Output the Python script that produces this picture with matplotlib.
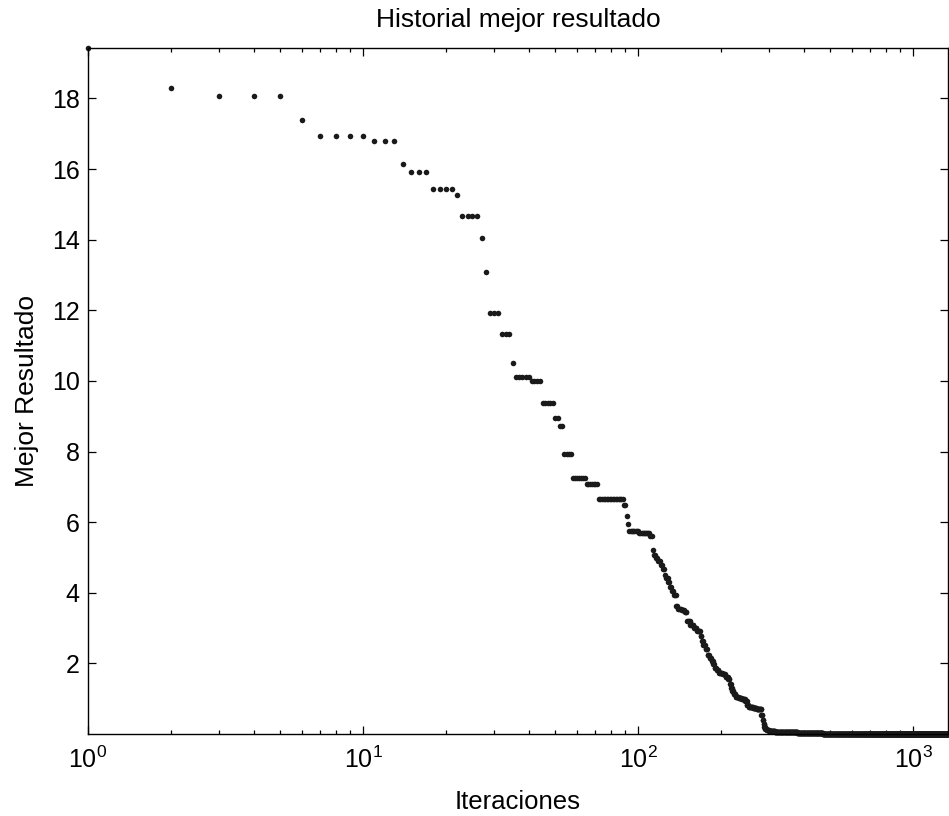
import numpy as np
import matplotlib
matplotlib.use("Agg")
import matplotlib.pyplot as plt
from matplotlib.ticker import LogLocator, NullFormatter, FixedLocator

plt.rcParams['font.family'] = ['Liberation Sans', 'DejaVu Sans']
plt.rcParams['mathtext.fontset'] = 'custom'
plt.rcParams['mathtext.rm'] = 'Liberation Sans'
plt.rcParams['mathtext.it'] = 'Liberation Sans'
plt.rcParams['mathtext.bf'] = 'Liberation Sans'

# ---- data: best result history (step changes) ----
n_iter = 1340
iter_start = [1, 2, 3, 6, 7, 11, 14, 15, 18, 22, 23, 27, 28, 29, 32, 35, 36, 41, 45, 50,
              52, 54, 58, 65, 72, 89, 91, 92, 93, 101, 111, 113, 114, 116, 118, 121, 123,
              125, 126, 129, 131, 133, 135, 138, 140, 144, 148, 151, 155, 160, 164, 169,
              171, 173, 176, 179, 182, 185, 188, 190, 193, 197, 203, 208, 213, 216, 218,
              220, 223, 227, 232, 238, 245, 249, 253, 262, 270, 281, 284, 286, 288, 290,
              294, 300, 315, 340, 380, 430, 470]
best_value = [19.43, 18.31, 18.07, 17.38, 16.94, 16.79, 16.14, 15.93, 15.43, 15.28, 14.66,
              14.05, 13.09, 11.92, 11.33, 10.50, 10.10, 9.99, 9.38, 8.94, 8.73, 7.94, 7.24,
              7.08, 6.65, 6.48, 6.17, 5.95, 5.74, 5.68, 5.60, 5.20, 5.08, 4.98, 4.90, 4.80,
              4.68, 4.50, 4.42, 4.30, 4.15, 4.05, 3.93, 3.62, 3.55, 3.50, 3.45, 3.20, 3.10,
              3.00, 2.93, 2.78, 2.62, 2.52, 2.40, 2.25, 2.15, 2.06, 1.97, 1.88, 1.80, 1.74,
              1.69, 1.62, 1.55, 1.42, 1.30, 1.22, 1.13, 1.06, 1.01, 0.98, 0.94, 0.82, 0.76,
              0.73, 0.70, 0.55, 0.40, 0.29, 0.20, 0.14, 0.11, 0.09, 0.07, 0.06, 0.04, 0.02,
              0.00]
y_ticks = [2, 4, 6, 8, 10, 12, 14, 16, 18]

title = "Historial mejor resultado"
x_label = "Iteraciones"
y_label = "Mejor Resultado"

# build per-iteration series from the step table
counts = np.diff(iter_start + [n_iter + 1])
iters = np.arange(1, n_iter + 1)
values = np.repeat(best_value, counts)

fig = plt.figure(figsize=(9.49, 8.16), dpi=100)
ax = fig.add_axes([88 / 949, (816 - 734) / 816, (948 - 88) / 949, (734 - 48) / 816])

ax.plot(iters, values, linestyle='none', marker='o', markersize=4.0,
        markeredgewidth=0, color='#1a1a1a', clip_on=False)

ax.set_xscale('log')
ax.set_xlim(1, n_iter)
ax.set_ylim(min(values), max(values))
ax.yaxis.set_major_locator(FixedLocator(y_ticks))

ax.xaxis.set_major_locator(LogLocator(base=10, numticks=10))
ax.xaxis.set_minor_locator(LogLocator(base=10, subs=np.arange(2, 10), numticks=20))
ax.xaxis.set_minor_formatter(NullFormatter())

for s in ax.spines.values():
    s.set_linewidth(1.0)
    s.set_color('black')

ax.tick_params(which='both', direction='in', top=True, right=True, colors='black')
ax.tick_params(which='major', length=6, width=0.9, labelsize=18)
ax.tick_params(which='minor', length=3, width=0.9)
ax.tick_params(axis='y', pad=6)
ax.tick_params(axis='x', pad=9)

ax.set_title(title, fontsize=19, pad=15)
ax.set_xlabel(x_label, fontsize=18.5, labelpad=12)
ax.set_ylabel(y_label, fontsize=19, labelpad=9)

fig.savefig("out.png", dpi=100)
